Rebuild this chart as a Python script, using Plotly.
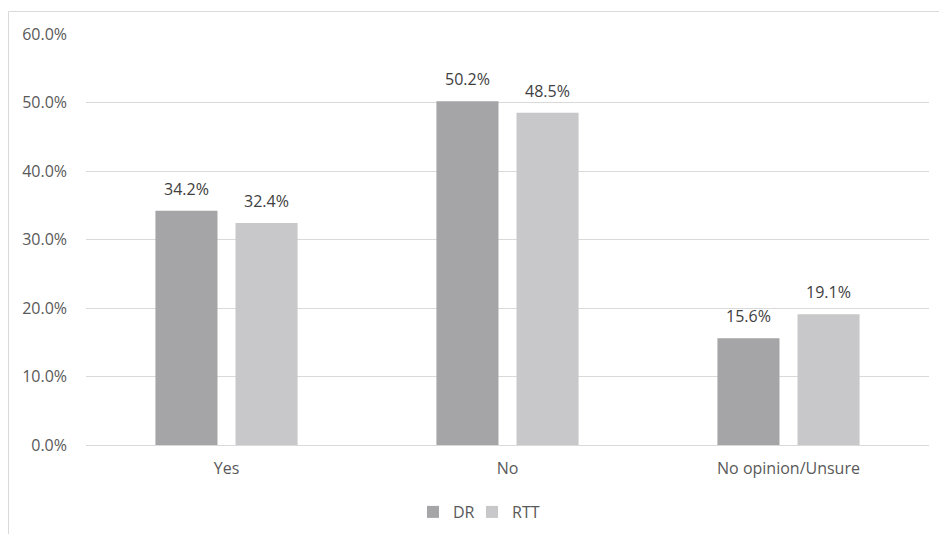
import plotly.graph_objects as go

categories = ["Yes", "No", "No opinion/Unsure"]
dr_values = [34.2, 50.2, 15.6]
rtt_values = [32.4, 48.5, 19.1]
y_ticks = [0, 10, 20, 30, 40, 50, 60]

W, H = 939, 534
L, R, T, B = 86, 10, 34, 89
pw, ph = W - L - R, H - T - B

def px_x(px):
    return (px - L) / pw

def px_y(py):
    return (H - B - py) / ph

font = "Open Sans"
FS = 16

fig = go.Figure()
fig.add_trace(go.Bar(
    x=categories, y=dr_values, name="DR", legend="legend",
    marker=dict(color="#A5A5A8", line=dict(width=0)),
))
fig.add_trace(go.Bar(
    x=categories, y=rtt_values, name="RTT", legend="legend2",
    marker=dict(color="#C8C8CA", line=dict(width=0)),
))

annotations = []
for vals, shift in ((dr_values, -40), (rtt_values, 40)):
    for c, v in zip(categories, vals):
        annotations.append(dict(
            x=c, y=v, xref="x", yref="y", text=f"{v:.1f}%", showarrow=False,
            xanchor="center", yanchor="bottom", xshift=shift, yshift=9,
            font=dict(family=font, size=FS, color="#404040"),
        ))

leg_common = dict(orientation="h", y=px_y(512), xanchor="left", yanchor="middle",
                  font=dict(family=font, size=FS, color="#595959"), itemwidth=30,
                  bgcolor="rgba(0,0,0,0)")

fig.update_layout(
    width=W, height=H,
    margin=dict(l=L, r=R, t=T, b=B, autoexpand=False),
    paper_bgcolor="white", plot_bgcolor="white",
    barmode="group", bargap=0.43, bargroupgap=0.225,
    font=dict(family=font, size=FS, color="#595959"),
    showlegend=True,
    legend=dict(x=px_x(413), **leg_common),
    legend2=dict(x=px_x(472), **leg_common),
    xaxis=dict(showgrid=False, showline=False, ticks="", ticklabelstandoff=12,
               tickfont=dict(size=FS, color="#595959")),
    yaxis=dict(range=[0, 60], tickvals=y_ticks, ticktext=[f"{v:.1f}%" for v in y_ticks],
               showgrid=True, gridcolor="#D9D9D9", gridwidth=1, zeroline=True,
               zerolinecolor="#D9D9D9", zerolinewidth=1, showline=False, ticks="",
               ticklabelstandoff=18, tickfont=dict(size=FS, color="#595959")),
    annotations=annotations,
    shapes=[
        dict(type="line", xref="paper", yref="paper", x0=px_x(8.5), x1=px_x(939), y0=px_y(11.5), y1=px_y(11.5),
             line=dict(color="#D9D9D9", width=1)),
        dict(type="line", xref="paper", yref="paper", x0=px_x(8.5), x1=px_x(8.5), y0=px_y(11.5), y1=px_y(534),
             line=dict(color="#D9D9D9", width=1)),
    ],
)

fig.write_html("out.html")
